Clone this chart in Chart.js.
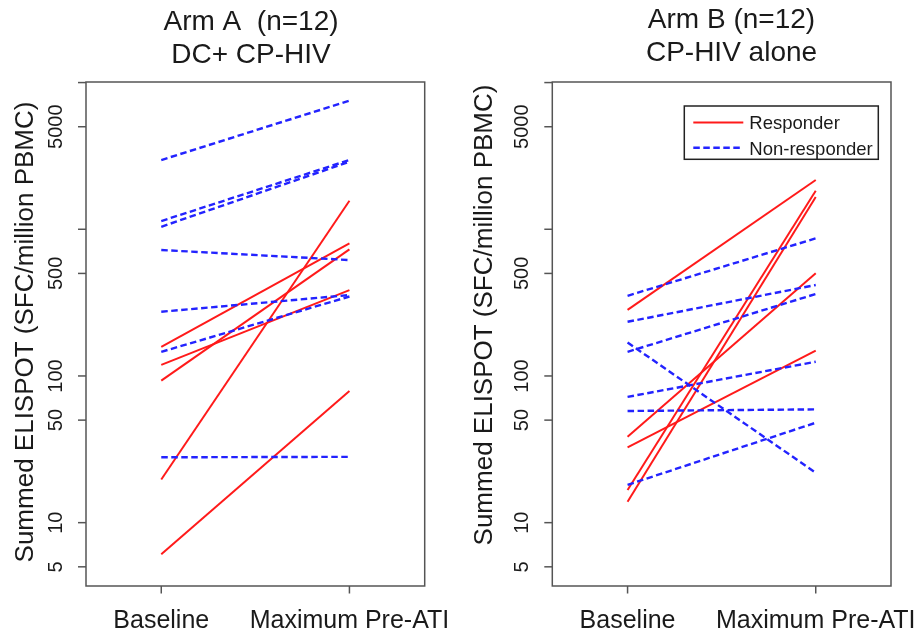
<!DOCTYPE html>
<html>
<head>
<meta charset="utf-8">
<script src="https://cdn.jsdelivr.net/npm/chart.js@4"></script>
<style>
  html, body { margin: 0; padding: 0; background: #ffffff; }
  #wrap { position: relative; width: 920px; height: 639px; overflow: hidden; }
  .panel { position: absolute; top: 0; width: 460px; height: 639px; }
</style>
</head>
<body>
<div id="wrap">
  <div class="panel" style="left:0"><canvas id="armA" width="460" height="639"></canvas></div>
  <div class="panel" style="left:460px"><canvas id="armB" width="460" height="639"></canvas></div>
</div>
<script>
// Time points on the x axis
const timepoints = ['Baseline', 'Maximum Pre-ATI'];

// Arm A: DC + CP-HIV (SFC per million PBMC)
const armAResponderBaseline = [158, 119, 93, 19.7, 6.1];
const armAResponderMax      = [801, 385, 730, 1566, 79];
const armANonResponderBaseline = [2965, 1138, 1040, 722, 274, 146, 27.9];
const armANonResponderMax      = [7520, 2965, 2886, 617, 356, 348, 28.1];

// Arm B: CP-HIV alone
const armBResponderBaseline = [282, 38.5, 32.6, 16.7, 13.9];
const armBResponderMax      = [2166, 501, 149, 1832, 1659];
const armBNonResponderBaseline = [352, 234, 146, 169, 72, 57.7, 18.1];
const armBNonResponderMax      = [867, 417, 362, 21.9, 125, 59.2, 48];

// Log axis ticks; 1000 and 10000 carry a tick mark but no label
const yTickValues = [5, 10, 50, 100, 500, 1000, 5000, 10000];
const yTickLabels = ['5', '10', '50', '100', '500', '', '5000', ''];

const legendLabels = ['Responder', 'Non-responder'];

const RED = '#ff1a1a';
const BLUE = '#2323ff';
const AXIS = '#555555';
const TEXT = '#1a1a1a';
const FONT = '"Liberation Sans", Arial, sans-serif';

function subjectDatasets(base, max, responder) {
  return base.map((b, i) => ({
    data: [{ x: 1, y: b }, { x: 2, y: max[i] }],
    borderColor: responder ? RED : BLUE,
    borderWidth: responder ? 2 : 2.4,
    borderDash: responder ? [] : [6.5, 3.5],
    pointRadius: 0,
    fill: false,
    tension: 0
  }));
}

// Draws the R-style frame, ticks, rotated labels, titles and legend
const frameAxes = {
  id: 'frameAxes',
  afterDraw(chart, args, o) {
    const ctx = chart.ctx;
    const a = chart.chartArea;
    const xs = chart.scales.x, ys = chart.scales.y;
    ctx.save();

    // box
    ctx.strokeStyle = AXIS;
    ctx.lineWidth = 1.5;
    ctx.strokeRect(a.left, a.top, a.right - a.left, a.bottom - a.top);

    // y ticks and rotated labels
    ctx.fillStyle = TEXT;
    ctx.font = '20px ' + FONT;
    ctx.textAlign = 'center';
    ctx.textBaseline = 'alphabetic';
    yTickValues.forEach((v, i) => {
      const y = ys.getPixelForValue(v);
      ctx.beginPath();
      ctx.moveTo(a.left - 8, y);
      ctx.lineTo(a.left, y);
      ctx.stroke();
      if (yTickLabels[i]) {
        ctx.save();
        ctx.translate(a.left - o.tickLabelGap, y);
        ctx.rotate(-Math.PI / 2);
        ctx.fillText(yTickLabels[i], 0, 0);
        ctx.restore();
      }
    });

    // x ticks and labels
    ctx.font = '25px ' + FONT;
    timepoints.forEach((t, i) => {
      const x = xs.getPixelForValue(i + 1);
      ctx.beginPath();
      ctx.moveTo(x, a.bottom);
      ctx.lineTo(x, a.bottom + 7.5);
      ctx.stroke();
      ctx.fillText(t, x, o.xLabelBaseline);
    });

    // y axis title
    ctx.font = '26px ' + FONT;
    ctx.save();
    ctx.translate(a.left - o.yTitleGap, o.yTitleCenter);
    ctx.rotate(-Math.PI / 2);
    ctx.fillText('Summed ELISPOT (SFC/million PBMC)', 0, 0);
    ctx.restore();

    // panel title
    ctx.font = '28px ' + FONT;
    ctx.fillText(o.title[0], o.titleX, o.titleBaselines[0]);
    ctx.fillText(o.title[1], o.titleX, o.titleBaselines[1]);

    // legend
    if (o.legend) {
      const L = o.legend;
      ctx.lineWidth = 1.5;
      ctx.strokeStyle = '#222222';
      ctx.strokeRect(L.x, L.y, L.w, L.h);
      ctx.font = '18.5px ' + FONT;
      ctx.textAlign = 'left';
      [[RED, [], 2], [BLUE, [6.5, 3.5], 2.4]].forEach((s, i) => {
        const ly = L.y + 16.5 + i * 25.2;
        ctx.strokeStyle = s[0];
        ctx.lineWidth = s[2];
        ctx.setLineDash(s[1]);
        ctx.beginPath();
        ctx.moveTo(L.x + 9, ly);
        ctx.lineTo(L.x + 59, ly);
        ctx.stroke();
        ctx.setLineDash([]);
        ctx.fillText(legendLabels[i], L.x + 65, ly + 6.8);
      });
    }
    ctx.restore();
  }
};

function makePanel(id, respBase, respMax, nonBase, nonMax, padding, opts) {
  return new Chart(document.getElementById(id), {
    type: 'line',
    data: {
      datasets: subjectDatasets(nonBase, nonMax, false)
        .concat(subjectDatasets(respBase, respMax, true))
    },
    options: {
      responsive: false,
      animation: false,
      layout: { padding },
      plugins: {
        legend: { display: false },
        tooltip: { enabled: false },
        frameAxes: opts
      },
      scales: {
        x: { type: 'linear', min: 0.6, max: 2.4, display: false },
        y: { type: 'logarithmic', min: 3.7, max: 10090, display: false }
      }
    },
    plugins: [frameAxes]
  });
}

makePanel('armA', armAResponderBaseline, armAResponderMax,
  armANonResponderBaseline, armANonResponderMax,
  { left: 86, right: 35.3, top: 82, bottom: 53 },
  {
    title: ['Arm A  (n=12)', 'DC+ CP-HIV'], titleX: 251, titleBaselines: [30, 63],
    tickLabelGap: 24.3, yTitleGap: 52.7, yTitleCenter: 332, xLabelBaseline: 628
  });

makePanel('armB', armBResponderBaseline, armBResponderMax,
  armBNonResponderBaseline, armBNonResponderMax,
  { left: 92.3, right: 29, top: 82, bottom: 53 },
  {
    title: ['Arm B (n=12)', 'CP-HIV alone'], titleX: 271.5, titleBaselines: [28, 61],
    tickLabelGap: 24, yTitleGap: 60.6, yTitleCenter: 315, xLabelBaseline: 628,
    legend: { x: 224.3, y: 106, w: 194, h: 53.3 }
  });
</script>
</body>
</html>
